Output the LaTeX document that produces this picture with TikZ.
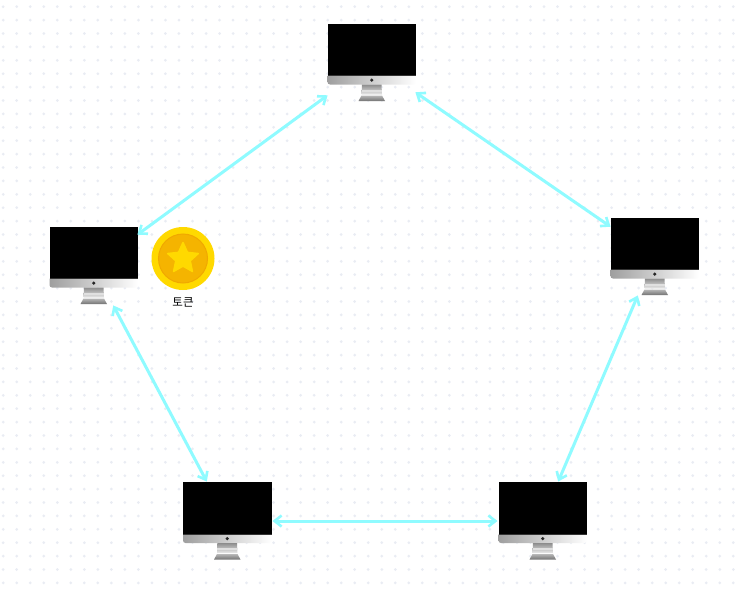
\documentclass[tikz,border=0pt]{standalone}
\usepackage{fontspec}
\newfontfamily\cjk{Noto Sans CJK KR}
\usetikzlibrary{arrows.meta,shapes.geometric,calc}
\definecolor{linkc}{HTML}{8FFBFF}
\definecolor{dotc}{HTML}{E9ECF3}
\definecolor{coingold}{HTML}{FFD900}
\definecolor{coinin}{HTML}{F5B400}
\definecolor{coinring}{HTML}{F0A800}
\tikzset{
 x=1pt,y=-1pt,
 screen/.style={draw=none,fill=black,minimum width=88.5pt,minimum height=52pt,inner sep=0pt,outer sep=0pt,anchor=north west},
 linkarrow/.style={draw=linkc,line width=3pt,{Straight Barb[length=7pt,width=11pt,line width=2.6pt]}-{Straight Barb[length=7pt,width=11pt,line width=2.6pt]},shorten >=0.5pt,shorten <=0.5pt},
 pics/imac/.style={code={
   \shade[left color=black!38,right color=white] (0,52) -- (88.5,52) -- (88.5,58.5) arc[start angle=0,end angle=90,radius=2.5] -- (2.5,61) arc[start angle=90,end angle=180,radius=2.5] -- (0,52);
   \fill[black!80] (0,51.5) rectangle (88.5,52.3);
   \fill[black!85] (44.25,56.6) circle[radius=1.8];
   \shade[top color=black!45,bottom color=black!8] (34.5,61) -- (54,61) -- (54.5,71) -- (34,71) -- cycle;
   \fill[black!12] (34.3,66) rectangle (54.2,68);
   \shade[top color=black!28,bottom color=black!55] (34,72) -- (54.5,72) -- (57.5,77.5) -- (31,77.5) -- cycle;
 }}
}
\begin{document}
\begin{tikzpicture}
\useasboundingbox (0,0) rectangle (740,597);
\fill[white] (0,0) rectangle (740,597);
\foreach \i in {0,...,54}{\foreach \j in {0,...,43}{
  \fill[dotc] ({3.2+13.52*\i},{6.7+13.4*\j}) circle[radius=1.5];
}}
% monitors
\node[screen] (mtop) at (327.5,23.5) {};
\pic at (327.5,23.5) {imac};
\node[screen] (mleft) at (49.5,226.5) {};
\pic at (49.5,226.5) {imac};
\node[screen] (mright) at (610.5,217.5) {};
\pic at (610.5,217.5) {imac};
\node[screen] (mbl) at (183,482) {};
\pic at (183,482) {imac};
\node[screen] (mbr) at (498.5,482) {};
\pic at (498.5,482) {imac};
% arrow ends
\coordinate (a1) at (137,235); \coordinate (a2) at (328,95);
\coordinate (b1) at (415,92);  \coordinate (b2) at (611,227);
\coordinate (c1) at (113,305); \coordinate (c2) at (207,482);
\coordinate (d1) at (638,295); \coordinate (d2) at (558,482);
\coordinate (e1) at (272,521); \coordinate (e2) at (498,521);
\draw[linkarrow] (a1) -- (a2);
\draw[linkarrow] (b1) -- (b2);
\draw[linkarrow] (c1) -- (c2);
\draw[linkarrow] (d1) -- (d2);
\draw[linkarrow] (e1) -- (e2);
% coin
\node[circle,fill=coingold,minimum size=63pt,inner sep=0pt] (coin) at (183,258.5) {};
\node[circle,fill=coinin,draw=coinring,line width=1pt,minimum size=49pt,inner sep=0pt] (coinface) at (183,258.5) {};
\node[star,star points=5,star point ratio=2.1,fill=coingold,draw=coingold,line width=1.5pt,line join=round,minimum size=32pt,inner sep=0pt] (coinstar) at (183,258.5) {};
\node[font=\cjk\fontsize{11.5pt}{13pt}\selectfont,text=black,inner sep=0pt] (lbl) at (183,302) {토큰};
\end{tikzpicture}
\end{document}
